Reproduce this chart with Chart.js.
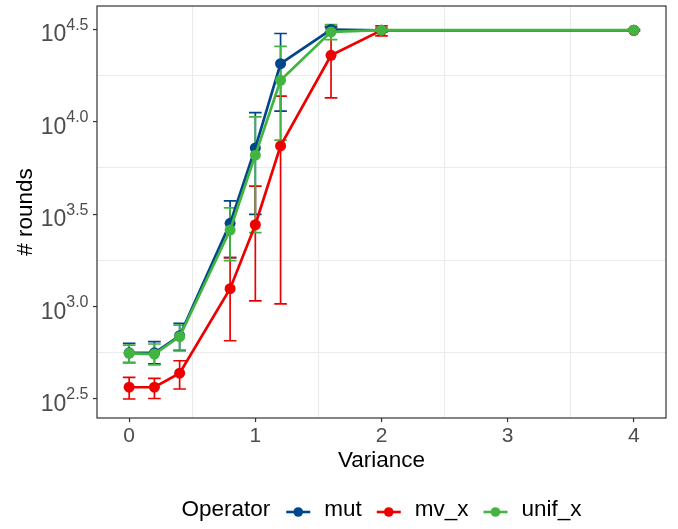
<!DOCTYPE html>
<html lang="en">
<head>
    <meta charset="UTF-8">
    <title>Rounds by variance</title>
    <script src="https://cdn.jsdelivr.net/npm/chart.js"></script>
    <style>
        body { margin: 0; background: #fff; }
        #wrap { width: 678px; height: 529px; }
    </style>
</head>
<body>
    <div id="wrap">
        <canvas id="myChart"></canvas>
    </div>
    <script>
        // values (# rounds, log y axis)
        const variance = [0, 0.2, 0.4, 0.8, 1, 1.2, 1.6, 2, 4];

        const mutMean = [562, 562, 695, 2820, 7210, 20600, 31500, 31250, 31250];
        const mutLow  = [497, 489, 577, 1840, 3150, 11400, 30500, 30550, 31000];
        const mutHigh = [632, 646, 811, 3730, 11200, 30000, 32800, 32000, 31500];

        const mvMean = [366, 366, 436, 1250, 2770, 7400, 22850, 31250, 31250];
        const mvLow  = [316, 318, 358, 653, 1074, 1033, 13460, 29100, 31000];
        const mvHigh = [414, 409, 509, 1840, 4480, 13740, 32300, 33000, 31500];

        const unifMean = [558, 553, 687, 2594, 6590, 16750, 30620, 31260, 31260];
        const unifLow  = [497, 483, 582, 1770, 2512, 7943, 27800, 30550, 31000];
        const unifHigh = [619, 627, 794, 3420, 10620, 25590, 33500, 32000, 31500];

        const operators = ['mut', 'mv_x', 'unif_x'];
        const colors = ['#00468B', '#ED0000', '#42B540'];

        const xTicks = [0, 1, 2, 3, 4];
        const xGrid = [0.5, 1.5, 2.5, 3.5];
        const yTickExps = [2.5, 3.0, 3.5, 4.0, 4.5];
        const yGridExps = [2.75, 3.25, 3.75, 4.25];

        const means = [mutMean, mvMean, unifMean];
        const lows = [mutLow, mvLow, unifLow];
        const highs = [mutHigh, mvHigh, unifHigh];

        const FONT = '"Liberation Sans", Arial, sans-serif';

        const errorBars = {
            id: 'errorBars',
            beforeDatasetsDraw(chart) {
                const { ctx, scales: { x, y } } = chart;
                operators.forEach((op, k) => {
                    ctx.save();
                    ctx.strokeStyle = colors[k];
                    ctx.lineWidth = 1.7;
                    variance.forEach((v, i) => {
                        const px = x.getPixelForValue(v);
                        const half = x.getPixelForValue(v + 0.05) - px;
                        const yl = y.getPixelForValue(lows[k][i]);
                        const yh = y.getPixelForValue(highs[k][i]);
                        ctx.beginPath();
                        ctx.moveTo(px, yl); ctx.lineTo(px, yh);
                        ctx.moveTo(px - half, yl); ctx.lineTo(px + half, yl);
                        ctx.moveTo(px - half, yh); ctx.lineTo(px + half, yh);
                        ctx.stroke();
                    });
                    ctx.restore();
                });
            }
        };

        const panelAndLabels = {
            id: 'panelAndLabels',
            afterDraw(chart) {
                const { ctx, chartArea: a, scales: { y } } = chart;
                ctx.save();
                // panel border
                ctx.strokeStyle = '#333333';
                ctx.lineWidth = 1.2;
                ctx.strokeRect(a.left, a.top, a.right - a.left, a.bottom - a.top);

                // y tick labels 10^e
                ctx.fillStyle = '#4D4D4D';
                ctx.textBaseline = 'alphabetic';
                yTickExps.forEach(e => {
                    const py = y.getPixelForValue(Math.pow(10, e));
                    const sup = e.toFixed(1);
                    ctx.font = '16px ' + FONT;
                    const sw = ctx.measureText(sup).width;
                    const right = a.left - 8.5;
                    ctx.textAlign = 'left';
                    ctx.fillText(sup, right - sw, py + 0.5);
                    ctx.font = '23px ' + FONT;
                    ctx.textAlign = 'right';
                    ctx.fillText('10', right - sw, py + 12);
                });

                // legend
                ctx.textBaseline = 'middle';
                ctx.textAlign = 'left';
                ctx.font = '22.5px ' + FONT;
                const ly = 510;
                const keyW = 24;
                const title = 'Operator';
                let total = ctx.measureText(title).width + 16;
                operators.forEach((op, k) => {
                    total += keyW + 14 + ctx.measureText(op).width + (k < operators.length - 1 ? 15 : 0);
                });
                let lx = (a.left + a.right) / 2 - total / 2;
                ctx.fillStyle = '#000';
                ctx.fillText(title, lx, ly);
                lx += ctx.measureText(title).width + 16;
                operators.forEach((op, k) => {
                    ctx.strokeStyle = colors[k];
                    ctx.fillStyle = colors[k];
                    ctx.lineWidth = 2.6;
                    ctx.beginPath();
                    ctx.moveTo(lx, ly + 2); ctx.lineTo(lx + keyW, ly + 2);
                    ctx.stroke();
                    ctx.beginPath();
                    ctx.arc(lx + keyW / 2, ly + 2, 4.8, 0, Math.PI * 2);
                    ctx.fill();
                    lx += keyW + 14;
                    ctx.fillStyle = '#000';
                    ctx.fillText(op, lx, ly);
                    lx += ctx.measureText(op).width + 15;
                });
                ctx.restore();
            }
        };

        const datasets = operators.map((op, k) => ({
            label: op,
            data: variance.map((v, i) => ({ x: v, y: means[k][i] })),
            borderColor: colors[k],
            backgroundColor: colors[k],
            borderWidth: 2.7,
            pointRadius: 5.5,
            pointHoverRadius: 5.5,
            pointBorderWidth: 0,
            tension: 0,
            order: operators.length - k
        }));

        new Chart(document.getElementById('myChart'), {
            type: 'line',
            data: { datasets },
            plugins: [errorBars, panelAndLabels],
            options: {
                responsive: true,
                maintainAspectRatio: false,
                animation: false,
                layout: { padding: { top: 6, right: 12, bottom: 55, left: 0 } },
                plugins: { legend: { display: false }, tooltip: { enabled: false } },
                scales: {
                    x: {
                        type: 'linear',
                        min: -0.255,
                        max: 4.255,
                        border: { display: false },
                        afterBuildTicks(scale) {
                            scale.ticks = xTicks.map(v => ({ value: v }))
                                .concat(xGrid.map(v => ({ value: v, minor: true })))
                                .sort((p, q) => p.value - q.value);
                        },
                        afterFit(scale) { scale.height = 56; },
                        grid: {
                            color: c => (c.tick && c.tick.minor) ? '#EBEBEB' : 'rgba(0,0,0,0)',
                            tickColor: c => (c.tick && c.tick.minor) ? 'rgba(0,0,0,0)' : '#333333',
                            lineWidth: 1.1,
                            tickLength: 4,
                            tickWidth: 1.2
                        },
                        ticks: {
                            autoSkip: false,
                            maxRotation: 0,
                            padding: 2,
                            color: '#4D4D4D',
                            font: { family: FONT, size: 21 },
                            callback: (val, i, ticks) => ticks[i].minor ? '' : String(val)
                        },
                        title: {
                            display: true,
                            text: 'Variance',
                            color: '#000',
                            font: { family: FONT, size: 22.5 },
                            padding: { top: 0, bottom: 0 }
                        }
                    },
                    y: {
                        type: 'logarithmic',
                        min: Math.pow(10, 2.397),
                        max: Math.pow(10, 4.626),
                        border: { display: false },
                        afterBuildTicks(scale) {
                            scale.ticks = yTickExps.map(e => ({ value: Math.pow(10, e) }))
                                .concat(yGridExps.map(e => ({ value: Math.pow(10, e), minor: true })))
                                .sort((p, q) => p.value - q.value);
                        },
                        afterFit(scale) { scale.width = 97; },
                        grid: {
                            color: c => (c.tick && c.tick.minor) ? '#EBEBEB' : 'rgba(0,0,0,0)',
                            tickColor: c => (c.tick && c.tick.minor) ? 'rgba(0,0,0,0)' : '#333333',
                            lineWidth: 1.1,
                            tickLength: 4,
                            tickWidth: 1.2
                        },
                        ticks: { display: false },
                        title: {
                            display: true,
                            text: '# rounds',
                            color: '#000',
                            font: { family: FONT, size: 22.5 },
                            padding: { top: 12, bottom: 0 }
                        }
                    }
                }
            }
        });
    </script>
</body>
</html>
